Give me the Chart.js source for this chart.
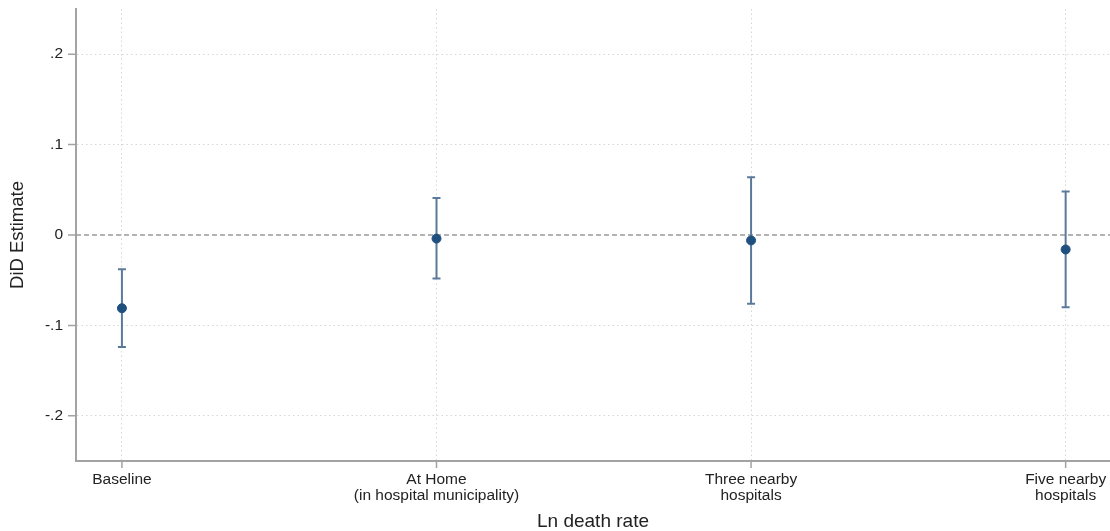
<!DOCTYPE html>
<html>
<head>
<meta charset="utf-8">
<script src="https://cdn.jsdelivr.net/npm/chart.js@4"></script>
<style>
  html, body { margin: 0; padding: 0; background: #fff; }
  #wrap { width: 1110px; height: 531px; }
</style>
</head>
<body>
<div id="wrap"><canvas id="did"></canvas></div>
<script>
// categories on the x axis (multi-line labels as arrays)
const categories = [
  'Baseline',
  ['At Home', '(in hospital municipality)'],
  ['Three nearby', 'hospitals'],
  ['Five nearby', 'hospitals']
];
const xPos = [0, 1, 2, 3];

// DiD point estimates and 95% CI bounds
const estimates = [-0.081, -0.004, -0.006, -0.016];
const ciLow = [-0.124, -0.048, -0.076, -0.080];
const ciHigh = [-0.038, 0.041, 0.064, 0.048];

// y tick values
const yTicks = [-0.2, -0.1, 0, 0.1, 0.2];

const axisGrey = '#a3a3a3';
const barColor = '#5b7a9b';
const dotColor = '#1f4f7f';
const font = 'Liberation Sans, Arial, Helvetica, sans-serif';

function fmtTick(v) {
  if (Math.abs(v) < 1e-9) return '0';
  const s = (Math.round(v * 10) / 10).toString();
  return s.replace('0.', '.');
}

// error bars, zero line and axis tick marks
const extras = {
  id: 'extras',
  beforeDatasetsDraw(chart) {
    const { ctx, chartArea, scales: { x, y } } = chart;
    ctx.save();
    // dashed reference line at 0
    ctx.strokeStyle = '#9a9a9a';
    ctx.lineWidth = 1.5;
    ctx.setLineDash([5, 3]);
    const y0 = y.getPixelForValue(0);
    ctx.beginPath();
    ctx.moveTo(chartArea.left, y0);
    ctx.lineTo(chartArea.right, y0);
    ctx.stroke();
    ctx.setLineDash([]);

    // confidence intervals
    ctx.strokeStyle = barColor;
    ctx.lineWidth = 2;
    xPos.forEach((xv, i) => {
      const px = x.getPixelForValue(xv);
      const lo = y.getPixelForValue(ciLow[i]);
      const hi = y.getPixelForValue(ciHigh[i]);
      ctx.beginPath();
      ctx.moveTo(px, lo); ctx.lineTo(px, hi);
      ctx.moveTo(px - 4, lo); ctx.lineTo(px + 4, lo);
      ctx.moveTo(px - 4, hi); ctx.lineTo(px + 4, hi);
      ctx.stroke();
    });
    ctx.restore();
  },
  afterDraw(chart) {
    const { ctx, chartArea, scales: { x, y } } = chart;
    ctx.save();
    ctx.strokeStyle = axisGrey;
    ctx.lineWidth = 1.5;
    ctx.beginPath();
    yTicks.forEach(v => {
      const py = y.getPixelForValue(v);
      ctx.moveTo(chartArea.left - 8, py);
      ctx.lineTo(chartArea.left, py);
    });
    xPos.forEach(v => {
      const px = x.getPixelForValue(v);
      ctx.moveTo(px, chartArea.bottom);
      ctx.lineTo(px, chartArea.bottom + 7);
    });
    ctx.stroke();
    ctx.restore();
  }
};

new Chart(document.getElementById('did'), {
  type: 'scatter',
  data: {
    datasets: [{
      label: 'DiD Estimate',
      data: xPos.map((xv, i) => ({ x: xv, y: estimates[i] })),
      backgroundColor: dotColor,
      borderColor: dotColor,
      pointRadius: 4.5,
      pointHoverRadius: 4.5
    }]
  },
  options: {
    responsive: true,
    maintainAspectRatio: false,
    animation: false,
    layout: { autoPadding: false, padding: { left: 0, right: 0, top: 9, bottom: 0 } },
    plugins: { legend: { display: false }, tooltip: { enabled: false } },
    scales: {
      x: {
        type: 'linear',
        min: -0.146,
        max: 3.141,
        afterBuildTicks: s => { s.ticks = xPos.map(v => ({ value: v })); },
        afterFit: s => { s.height = 70; s.paddingLeft = 0; s.paddingRight = 0; },
        grid: { color: '#d6d6d6', lineWidth: 1, drawTicks: false },
        border: { color: axisGrey, width: 2, dash: [1.5, 3] },
        ticks: {
          autoSkip: false,
          maxRotation: 0,
          padding: 11,
          color: '#222',
          font: { family: font, size: 15.5, lineHeight: 1 },
          callback: v => categories[xPos.indexOf(v)]
        },
        title: {
          display: true,
          text: 'Ln death rate',
          color: '#222',
          font: { family: font, size: 19, lineHeight: 1 },
          padding: { top: 0, bottom: 0 }
        }
      },
      y: {
        min: -0.25,
        max: 0.25,
        afterBuildTicks: s => { s.ticks = yTicks.map(v => ({ value: v })); },
        afterFit: s => { s.width = 76; s.paddingTop = 0; s.paddingBottom = 0; },
        grid: {
          color: c => (Math.abs(c.tick.value) < 1e-9 ? 'rgba(0,0,0,0)' : '#d6d6d6'),
          lineWidth: 1,
          drawTicks: false
        },
        border: { color: axisGrey, width: 2, dash: [1.5, 3] },
        ticks: {
          padding: 13,
          color: '#222',
          font: { family: font, size: 15.5 },
          callback: v => fmtTick(v)
        },
        title: {
          display: true,
          text: 'DiD Estimate',
          color: '#222',
          font: { family: font, size: 18.5 },
          padding: { top: 7, bottom: 0 }
        }
      }
    }
  },
  plugins: [extras]
});
</script>
</body>
</html>
